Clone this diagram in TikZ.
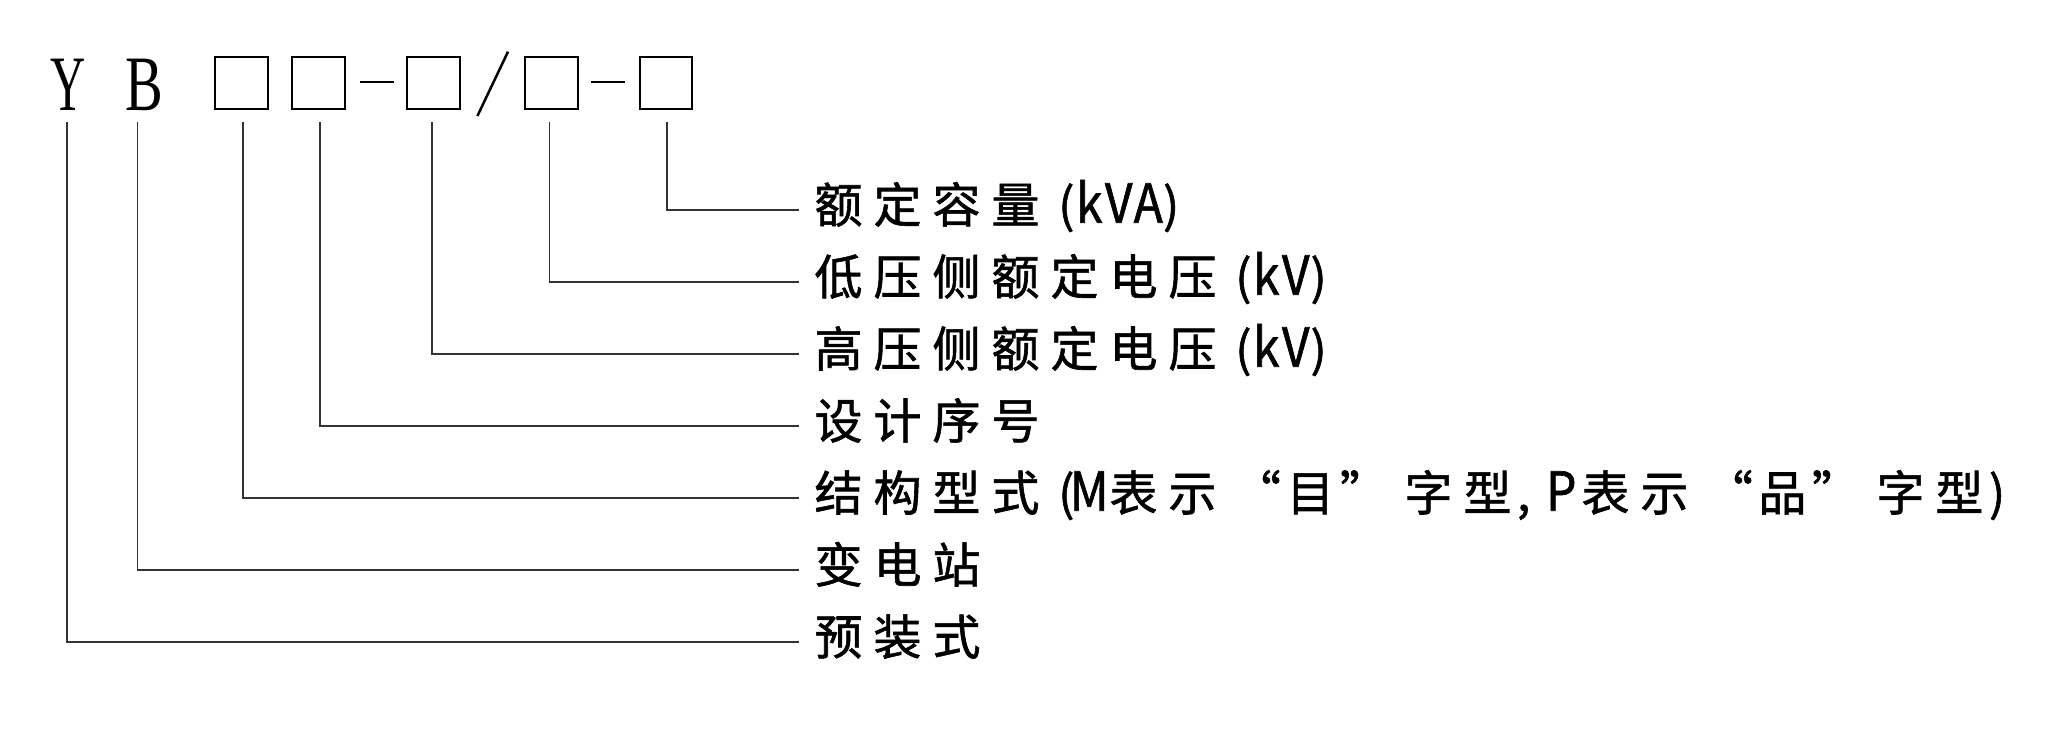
\documentclass[tikz,border=0pt]{standalone}
\usepackage{fontspec}
\newfontfamily\cjk[FakeBold=1.2]{Noto Sans CJK SC}
\newfontfamily\hdserif{Liberation Serif}
\newcommand\zc[1]{\makebox[59pt][c]{#1}}
\newcommand\zcr[1]{\makebox[59pt][r]{#1}}
\newcommand\zcl[1]{\makebox[59pt][l]{#1}}
\newcommand\zh[1]{\makebox[29.5pt][c]{\scalebox{1}[1.12]{#1}}}
\newcommand\zhr[1]{\makebox[29.5pt][r]{#1}}
\newcommand\zhl[1]{\makebox[29.5pt][l]{#1}}
\definecolor{connc}{HTML}{333333}
\begin{document}
\begin{tikzpicture}[x=1pt,y=-1pt,
  lbl/.style={inner sep=0pt,outer sep=0pt,font=\cjk\fontsize{48}{52}\selectfont,text=black},
  hd/.style={inner sep=0pt,outer sep=0pt,font=\hdserif\fontsize{78.5}{80}\selectfont,text=black},
  sq/.style={draw=black,line width=2.3pt,minimum width=52.5pt,minimum height=51.7pt,inner sep=0pt,outer sep=0pt},
  conn/.style={draw=connc,line width=1.6pt},
  mark line/.style={draw=black,line width=2.3pt}]
\useasboundingbox (0,0) rectangle (2056,740);
% header
\node[hd,anchor=base] (Y) at (68,110) {\scalebox{0.62}[1]{Y}};
\node[hd,anchor=base] (B) at (144.5,110) {\scalebox{0.72}[1]{B}};
\node[sq] (b1) at (241.5,83) {};
\node[sq] (b2) at (318.5,83) {};
\node[sq] (b3) at (433.5,83) {};
\node[sq] (b4) at (551.5,83) {};
\node[sq] (b5) at (666,83) {};
\draw[mark line] (360,82) -- (394,82);
\draw[mark line] (591,82) -- (625,82);
\draw[mark line,line width=2.5pt] (477.4,116) -- (508,51.7);
% labels
\node[lbl,anchor=base west] (t1) at (809,222.7) {\zc{额}\zc{定}\zc{容}\zc{量}\zhr{(}\zh{k}\zh{V}\zh{A}\zhl{)}};
\node[lbl,anchor=base west] (t2) at (809,294.7) {\zc{低}\zc{压}\zc{侧}\zc{额}\zc{定}\zc{电}\zc{压}\zhr{(}\zh{k}\zh{V}\zhl{)}};
\node[lbl,anchor=base west] (t3) at (809,366.7) {\zc{高}\zc{压}\zc{侧}\zc{额}\zc{定}\zc{电}\zc{压}\zhr{(}\zh{k}\zh{V}\zhl{)}};
\node[lbl,anchor=base west] (t4) at (809,438.7) {\zc{设}\zc{计}\zc{序}\zc{号}};
\node[lbl,anchor=base west] (t5) at (809,510.7) {\zc{结}\zc{构}\zc{型}\zc{式}\zhr{(}\zh{M}\zc{表}\zc{示}\zcr{“}\zc{目}\zcl{”}\zc{字}\zc{型}\zhl{,}\zh{P}\zc{表}\zc{示}\zcr{“}\zc{品}\zcl{”}\zc{字}\zc{型}\zhl{)}};
\node[lbl,anchor=base west] (t6) at (809,582.7) {\zc{变}\zc{电}\zc{站}};
\node[lbl,anchor=base west] (t7) at (809,654.7) {\zc{预}\zc{装}\zc{式}};
% connector ends
\coordinate (e1) at (799,210);
\coordinate (e2) at (799,282);
\coordinate (e3) at (799,354);
\coordinate (e4) at (799,426);
\coordinate (e5) at (799,498);
\coordinate (e6) at (799,570);
\coordinate (e7) at (799,642);
% connectors
\draw[conn] ([xshift=1pt,yshift=-13pt]b5.south) |- (e1);
\draw[conn] ([xshift=-2pt,yshift=-13pt]b4.south) |- (e2);
\draw[conn] ([xshift=-1.5pt,yshift=-13pt]b3.south) |- (e3);
\draw[conn] ([xshift=1.5pt,yshift=-13pt]b2.south) |- (e4);
\draw[conn] ([xshift=1.5pt,yshift=-13pt]b1.south) |- (e5);
\draw[conn] ([xshift=-7pt,yshift=-12pt]B.south) |- (e6);
\draw[conn] ([xshift=-1.3pt,yshift=-12pt]Y.south) |- (e7);
\end{tikzpicture}
\end{document}
